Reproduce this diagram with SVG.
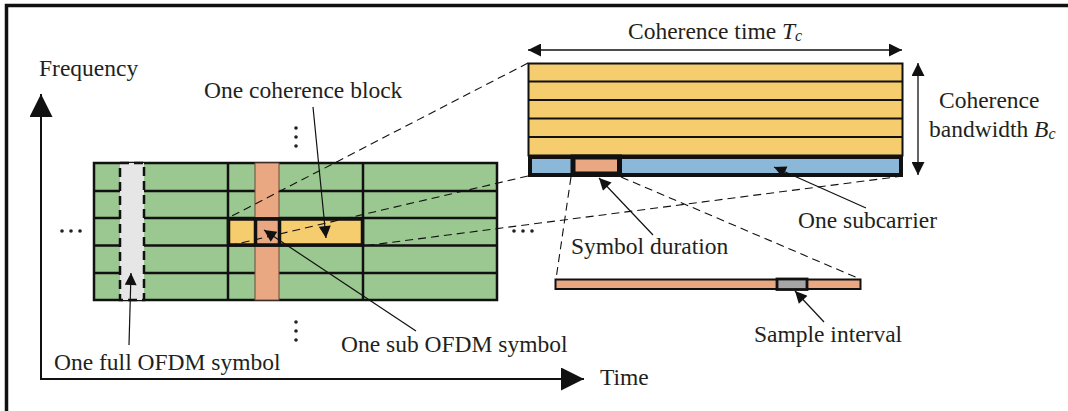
<svg xmlns="http://www.w3.org/2000/svg" width="1068" height="411" viewBox="0 0 1068 411">
<style>
text{font-family:"Liberation Serif","Times New Roman",serif;font-size:23.5px;fill:#231f20}
.g{fill:#9bc790;stroke:none}
.ln{stroke:#111;stroke-width:2.5;fill:none}
.dash{stroke:#111;stroke-width:1.1;fill:none;stroke-dasharray:8,5}
.ann{stroke:#111;stroke-width:1.2;fill:none;marker-end:url(#ah)}
.dot{fill:#231f20}
</style>
<defs>
<marker id="ah" viewBox="0 0 10 10" refX="10" refY="5" markerUnits="userSpaceOnUse" markerWidth="15" markerHeight="12" orient="auto-start-reverse"><path d="M0,0L10,5L0,10z" fill="#111"/></marker>
<marker id="ah2" viewBox="0 0 10 10" refX="10" refY="5" markerUnits="userSpaceOnUse" markerWidth="17" markerHeight="13" orient="auto-start-reverse"><path d="M0,0L10,5L0,10z" fill="#111"/></marker>
<marker id="axh" viewBox="0 0 10 10" refX="10" refY="5" markerUnits="userSpaceOnUse" markerWidth="24" markerHeight="23" orient="auto"><path d="M0,0L10,5L0,10z" fill="#111"/></marker>
</defs>

<path d="M6.5,411V5.5H1068" fill="none" stroke="#111" stroke-width="3.5"/>

<g id="axes">
<line x1="41" y1="379" x2="41" y2="94" stroke="#111" stroke-width="2" marker-end="url(#axh)"/>
<line x1="40" y1="379" x2="584" y2="379" stroke="#111" stroke-width="2" marker-end="url(#axh)"/>
<text x="39" y="76">Frequency</text>
<text x="600" y="385">Time</text>
</g>

<g id="grid">
<rect class="g" x="94" y="163" width="403" height="137"/>
<g class="ln">
<line x1="94" y1="191" x2="497" y2="191"/>
<line x1="94" y1="218" x2="497" y2="218"/>
<line x1="94" y1="245.5" x2="497" y2="245.5"/>
<line x1="94" y1="273" x2="497" y2="273"/>
<line x1="228" y1="163" x2="228" y2="300"/>
<line x1="363" y1="163" x2="363" y2="300"/>
<rect x="94" y="163" width="403" height="137"/>
</g>
<rect id="orangecol" x="255" y="163" width="24" height="137" fill="#e9a882" stroke="#6b4a3a" stroke-width="1"/>
</g>

<g id="fullsymbol">
<rect x="120" y="163" width="24" height="137" fill="#e6e6e6" stroke="#111" stroke-width="2.5" stroke-dasharray="9,5"/>
</g>

<g id="coherenceblock">
<rect x="228.5" y="219" width="134" height="26" fill="#f5cc6e" stroke="#111" stroke-width="3.5"/>
<rect x="255.5" y="219" width="24" height="26" fill="#e9a882" stroke="#111" stroke-width="3.5"/>
</g>

<g id="dots">
<circle class="dot" cx="62" cy="231" r="1.8"/><circle class="dot" cx="71" cy="231" r="1.8"/><circle class="dot" cx="80" cy="231" r="1.8"/>
<circle class="dot" cx="514" cy="231" r="1.8"/><circle class="dot" cx="523" cy="231" r="1.8"/><circle class="dot" cx="532" cy="231" r="1.8"/>
<circle class="dot" cx="296" cy="128" r="1.8"/><circle class="dot" cx="296" cy="137" r="1.8"/><circle class="dot" cx="296" cy="146" r="1.8"/>
<circle class="dot" cx="296" cy="322" r="1.8"/><circle class="dot" cx="296" cy="331" r="1.8"/><circle class="dot" cx="296" cy="340" r="1.8"/>
</g>

<g id="zoomblock">
<rect x="528.5" y="63.5" width="374" height="92" fill="#f5cc6e" stroke="#111" stroke-width="2"/>
<g stroke="#111" stroke-width="2.2">
<line x1="528.5" y1="81.5" x2="902.5" y2="81.5"/>
<line x1="528.5" y1="100" x2="902.5" y2="100"/>
<line x1="528.5" y1="118.5" x2="902.5" y2="118.5"/>
<line x1="528.5" y1="137" x2="902.5" y2="137"/>
</g>
<rect x="530" y="157" width="371" height="18" fill="#8bb8d8" stroke="#111" stroke-width="4"/>
<rect x="573" y="157" width="46.5" height="17" fill="#e9a882" stroke="#111" stroke-width="5"/>
</g>

<g id="symbolbar">
<rect x="555.5" y="279.5" width="305" height="9.5" fill="#e9a882" stroke="#111" stroke-width="2"/>
<rect x="777" y="279" width="30" height="10.5" fill="#a6a6a6" stroke="#111" stroke-width="2.8"/>
</g>

<g id="connectors">
<line class="dash" x1="528" y1="63" x2="228" y2="218"/>
<line class="dash" x1="528" y1="176" x2="228" y2="246"/>
<line class="dash" x1="903" y1="176" x2="363" y2="246"/>
<line class="dash" x1="571" y1="177" x2="556" y2="279"/>
<line class="dash" x1="621" y1="177" x2="860" y2="279"/>
<line class="ann" x1="313" y1="107" x2="326" y2="238"/>
<line class="ann" x1="416" y1="331" x2="264" y2="230"/>
<line class="ann" x1="129" y1="345" x2="131" y2="273"/>
<line class="ann" x1="653" y1="235" x2="599" y2="178"/>
<line class="ann" x1="866" y1="208" x2="774" y2="167"/>
<line class="ann" x1="824" y1="322" x2="795" y2="291"/>
<line x1="528" y1="50" x2="902" y2="50" stroke="#111" stroke-width="1.3" marker-start="url(#ah2)" marker-end="url(#ah2)"/>
<line x1="918" y1="63" x2="918" y2="175" stroke="#111" stroke-width="1.3" marker-start="url(#ah2)" marker-end="url(#ah2)"/>
</g>

<g id="labels">
<text x="204" y="98">One coherence block</text>
<text x="54" y="370">One full OFDM symbol</text>
<text x="341" y="352">One sub OFDM symbol</text>
<text x="628" y="39">Coherence time <tspan font-style="italic">T</tspan><tspan font-style="italic" font-size="16" dy="2">c</tspan></text>
<text x="939" y="108">Coherence</text>
<text x="929" y="137">bandwidth <tspan font-style="italic">B</tspan><tspan font-style="italic" font-size="16" dy="2">c</tspan></text>
<text x="571" y="254">Symbol duration</text>
<text x="798" y="228">One subcarrier</text>
<text x="754" y="342">Sample interval</text>
</g>
</svg>
